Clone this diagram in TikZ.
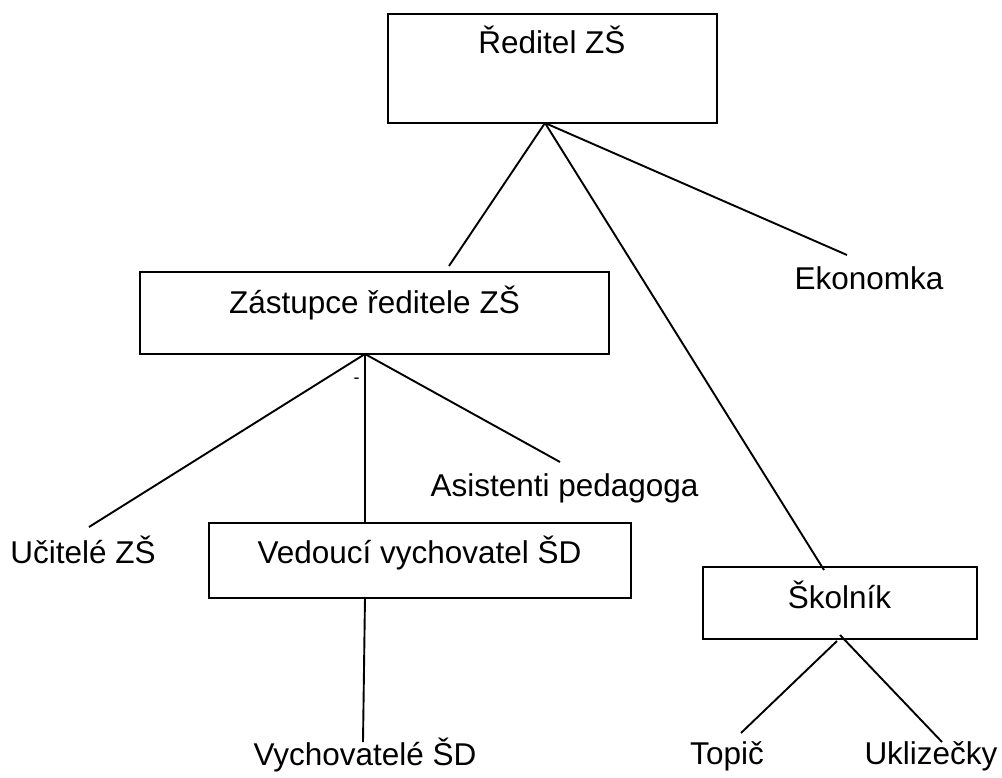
\documentclass[tikz,border=0pt]{standalone}
\usepackage{fontspec}
\setmainfont{Liberation Sans}
\begin{document}
\begin{tikzpicture}[x=1pt,y=-1pt,
  box/.style={draw=black,line width=1.9pt,rectangle,inner sep=0pt},
  lbl/.style={anchor=base,inner sep=0pt,font=\fontsize{31.5}{38}\selectfont},
  conn/.style={draw=black,line width=1.9pt}]
\useasboundingbox (0,0) rectangle (1002,778);
% boxes
\node[box,minimum width=329pt,minimum height=109pt] (dir) at (552.5,68.5) {};
\node[box,minimum width=469pt,minimum height=82pt] (zas) at (374.5,313) {};
\node[box,minimum width=422pt,minimum height=75pt] (ved) at (420,560.5) {};
\node[box,minimum width=274pt,minimum height=72pt] (sko) at (840,603) {};
% box texts
\node[lbl] (dirt) at (552,54) {Ředitel ZŠ};
\node[lbl] (zast) at (374.5,313) {Zástupce ředitele ZŠ};
\node[lbl] (vedt) at (419.5,563) {Vedoucí vychovatel ŠD};
\node[lbl] (skot) at (839.5,608) {Školník};
% free labels
\node[lbl] (uci) at (83,563) {Učitelé ZŠ};
\node[lbl] (asi) at (564.5,496) {Asistenti pedagoga};
\node[lbl] (eko) at (869,290) {Ekonomka};
\node[lbl] (vyc) at (365,765) {Vychovatelé ŠD};
\node[lbl] (top) at (727,764) {Topič};
\node[lbl] (ukl) at (931,764) {Uklizečky};
\node[anchor=center,inner sep=0pt,font=\fontsize{18}{20}\selectfont] (dash) at (356.5,381) {-};
% connector points
\coordinate (d0) at (545,123);
\coordinate (z1) at (449,266);
\coordinate (s1) at (824,570);
\coordinate (e1) at (847,255);
\coordinate (z0) at (365,354);
\coordinate (u1) at (89,527);
\coordinate (v1) at (365,523);
\coordinate (a1) at (560,462);
\coordinate (v0) at (365,597);
\coordinate (y1) at (363,742);
\coordinate (k0) at (837,641);
\coordinate (t1) at (741,733);
\coordinate (k2) at (840,635);
\coordinate (l1) at (942,742);
% connectors
\draw[conn] (d0) -- (z1);
\draw[conn] (d0) -- (s1);
\draw[conn] (d0) -- (e1);
\draw[conn] (z0) -- (u1);
\draw[conn] (z0) -- (v1);
\draw[conn] (z0) -- (a1);
\draw[conn] (v0) -- (y1);
\draw[conn] (k0) -- (t1);
\draw[conn] (k2) -- (l1);
\end{tikzpicture}
\end{document}
